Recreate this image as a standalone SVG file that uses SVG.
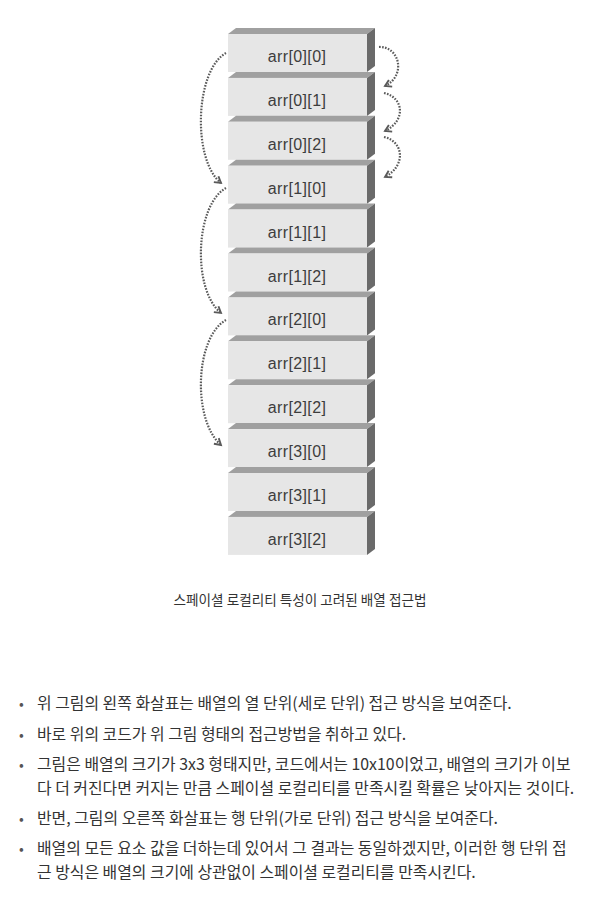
<svg xmlns="http://www.w3.org/2000/svg" width="600" height="900" viewBox="0 0 600 900">
<defs>
<style>
.front{fill:#e6e6e6}
.top{fill:#a0a0a0}
.side{fill:#6a6a6a}
.lbl{font-family:"Liberation Sans",Arial,sans-serif;font-size:16px;fill:#3d3d3d;text-anchor:middle;letter-spacing:0.4px}
.arr{fill:none;stroke:#5a5a5a;stroke-width:2.2;stroke-dasharray:1.6 1.4;marker-end:url(#ah)}
.cap{font-family:"Noto Sans CJK KR","Noto Sans",sans-serif;font-size:13.6px;fill:#333;text-anchor:middle}
.txt{font-family:"Noto Sans CJK KR","Noto Sans",sans-serif;font-size:15.9px;fill:#333}
.bul{font-family:"Noto Sans CJK KR","Noto Sans",sans-serif;font-size:14px;fill:#555}
</style>
<marker id="ah" viewBox="0 0 8 8" refX="6" refY="4" markerWidth="4.5" markerHeight="4.5" orient="auto" markerUnits="strokeWidth">
<path d="M1,1 L6,4 L1,7" fill="none" stroke="#5a5a5a" stroke-width="1.5"/>
</marker>
<g id="slab">
<polygon class="top" points="228,6 236,0 375,0 367,6"/>
<rect class="front" x="228" y="6" width="139" height="38"/>
<polygon class="side" points="367,6 375,0 375,38 367,44"/>
</g>
</defs>
<rect width="600" height="900" fill="#ffffff"/>
<g id="array">
<g id="n00"><use href="#slab" y="28"/><text class="lbl" x="297" y="62">arr[0][0]</text></g>
<g id="n01"><use href="#slab" y="71.9"/><text class="lbl" x="297" y="105.9">arr[0][1]</text></g>
<g id="n02"><use href="#slab" y="115.8"/><text class="lbl" x="297" y="149.8">arr[0][2]</text></g>
<g id="n10"><use href="#slab" y="159.7"/><text class="lbl" x="297" y="193.7">arr[1][0]</text></g>
<g id="n11"><use href="#slab" y="203.6"/><text class="lbl" x="297" y="237.6">arr[1][1]</text></g>
<g id="n12"><use href="#slab" y="247.5"/><text class="lbl" x="297" y="281.5">arr[1][2]</text></g>
<g id="n20"><use href="#slab" y="291.4"/><text class="lbl" x="297" y="325.4">arr[2][0]</text></g>
<g id="n21"><use href="#slab" y="335.3"/><text class="lbl" x="297" y="369.3">arr[2][1]</text></g>
<g id="n22"><use href="#slab" y="379.2"/><text class="lbl" x="297" y="413.2">arr[2][2]</text></g>
<g id="n30"><use href="#slab" y="423.1"/><text class="lbl" x="297" y="457.1">arr[3][0]</text></g>
<g id="n31"><use href="#slab" y="467"/><text class="lbl" x="297" y="501">arr[3][1]</text></g>
<g id="n32"><use href="#slab" y="510.9"/><text class="lbl" x="297" y="544.9">arr[3][2]</text></g>
</g>
<g id="connectors">
<path class="arr" d="M379,47 C399,46 407,75 385,86"/>
<path class="arr" d="M384,93 C403,97 407,120 385,131"/>
<path class="arr" d="M384,137 C403,141 407,165 385,177"/>
<path class="arr" d="M226,53 C195,70 192,160 221,183"/>
<path class="arr" d="M226,188 C195,205 192,290 221,313"/>
<path class="arr" d="M226,320 C195,337 192,420 221,445"/>
</g>
<g id="caption">
<text class="cap" x="300" y="605">스페이셜 로컬리티 특성이 고려된 배열 접근법</text>
</g>
<g id="notes">
<text class="bul" x="19" y="709">•</text>
<text class="txt" x="37" y="709">위 그림의 왼쪽 화살표는 배열의 열 단위(세로 단위) 접근 방식을 보여준다.</text>
<text class="bul" x="19" y="740">•</text>
<text class="txt" x="37" y="740">바로 위의 코드가 위 그림 형태의 접근방법을 취하고 있다.</text>
<text class="bul" x="19" y="770">•</text>
<text class="txt" x="37" y="770">그림은 배열의 크기가 3x3 형태지만, 코드에서는 10x10이었고, 배열의 크기가 이보</text>
<text class="txt" x="37" y="794">다 더 커진다면 커지는 만큼 스페이셜 로컬리티를 만족시킬 확률은 낮아지는 것이다.</text>
<text class="bul" x="19" y="824">•</text>
<text class="txt" x="37" y="824">반면, 그림의 오른쪽 화살표는 행 단위(가로 단위) 접근 방식을 보여준다.</text>
<text class="bul" x="19" y="854">•</text>
<text class="txt" x="37" y="854">배열의 모든 요소 값을 더하는데 있어서 그 결과는 동일하겠지만, 이러한 행 단위 접</text>
<text class="txt" x="37" y="878">근 방식은 배열의 크기에 상관없이 스페이셜 로컬리티를 만족시킨다.</text>
</g>
</svg>
